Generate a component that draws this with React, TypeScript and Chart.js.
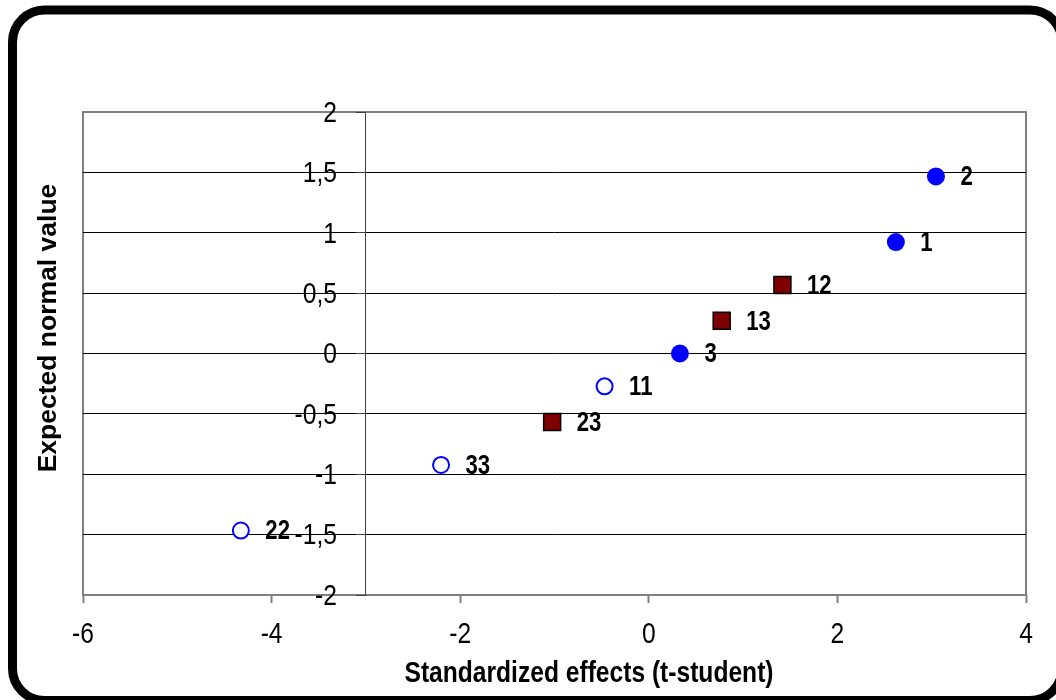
import React, { useEffect, useRef } from 'react';
import { Chart, registerables } from 'chart.js';

Chart.register(...registerables);

const FONT = "'Liberation Sans', Arial, sans-serif";
const NARROW = 0.82;

// Axis ticks
const xTickValues = [-6, -4, -2, 0, 2, 4];
const yTickValues = [-2, -1.5, -1, -0.5, 0, 0.5, 1, 1.5, 2];
const yAxisAtX = -3;

// Titles
const xTitle = 'Standardized effects (t-student)';
const yTitle = 'Expected normal value';

// Series: filled blue circles
const filledLabels = ['1', '2', '3'];
const filledX = [2.62, 3.045, 0.33];
const filledY = [0.923, 1.466, 0];

// Series: dark red squares
const squareLabels = ['12', '13', '23'];
const squareX = [1.417, 0.773, -1.025];
const squareY = [0.567, 0.272, -0.567];

// Series: open blue circles
const openLabels = ['11', '22', '33'];
const openX = [-0.469, -4.326, -2.203];
const openY = [-0.272, -1.466, -0.923];

const fmt = (v: number | string) => String(v).replace('.', ',');

const toPoints = (xs: number[], ys: number[]) => xs.map((x, i) => ({ x, y: ys[i] }));

function narrowText(ctx: CanvasRenderingContext2D, text: string, x: number, y: number, align: CanvasTextAlign) {
  ctx.save();
  ctx.translate(x, y);
  ctx.scale(NARROW, 1);
  ctx.textAlign = align;
  ctx.fillText(text, 0, 0);
  ctx.restore();
}

const decorPlugin = {
  id: 'decor',
  beforeDraw(chart: any) {
    const { ctx, chartArea: a } = chart;
    ctx.save();
    ctx.fillStyle = '#ffffff';
    ctx.fillRect(0, 0, chart.width, chart.height);
    ctx.strokeStyle = '#808080';
    ctx.lineWidth = 2;
    ctx.strokeRect(a.left, a.top, a.right - a.left, a.bottom - a.top);
    ctx.restore();
  },
  afterDatasetsDraw(chart: any) {
    const { ctx } = chart;
    const labelSets = [filledLabels, squareLabels, openLabels];
    ctx.save();
    ctx.font = `bold 27px ${FONT}`;
    ctx.fillStyle = '#000';
    ctx.textBaseline = 'middle';
    chart.data.datasets.forEach((ds: any, di: number) => {
      const meta = chart.getDatasetMeta(di);
      meta.data.forEach((el: any, i: number) => {
        narrowText(ctx, labelSets[di][i], el.x + 24.5, el.y + 1.5, 'left');
      });
    });
    ctx.restore();
  },
  afterDraw(chart: any) {
    const { ctx } = chart;
    const xs = chart.scales.x;
    const ys = chart.scales.y;
    ctx.save();
    ctx.fillStyle = '#000';
    ctx.textBaseline = 'middle';
    // tick labels
    ctx.font = `30px ${FONT}`;
    xTickValues.forEach((v) => {
      narrowText(ctx, fmt(v), xs.getPixelForValue(v), 634.5, 'center');
    });
    const axisX = xs.getPixelForValue(yAxisAtX);
    yTickValues.forEach((v) => {
      narrowText(ctx, fmt(v), axisX - 29, ys.getPixelForValue(v) + 1.5, 'right');
    });
    // axis titles
    ctx.font = `bold 30px ${FONT}`;
    narrowText(ctx, xTitle, 589, 674, 'center');
    ctx.translate(49, 328);
    ctx.rotate(-Math.PI / 2);
    ctx.font = `bold 26.5px ${FONT}`;
    ctx.textAlign = 'center';
    ctx.fillText(yTitle, 0, 0);
    ctx.restore();

    // outer rounded frame
    ctx.save();
    ctx.strokeStyle = '#000';
    ctx.lineWidth = 9;
    ctx.beginPath();
    const x0 = 12.5, y0 = 10, x1 = 1062, y1 = 700.5, r = 32;
    ctx.moveTo(x0 + r, y0);
    ctx.lineTo(x1 - r, y0);
    ctx.arcTo(x1, y0, x1, y0 + r, r);
    ctx.lineTo(x1, y1 - r);
    ctx.arcTo(x1, y1, x1 - r, y1, r);
    ctx.lineTo(x0 + r, y1);
    ctx.arcTo(x0, y1, x0, y1 - r, r);
    ctx.lineTo(x0, y0 + r);
    ctx.arcTo(x0, y0, x0 + r, y0, r);
    ctx.closePath();
    ctx.stroke();
    ctx.restore();
  },
};

export default function App() {
  const ref = useRef<HTMLCanvasElement | null>(null);

  useEffect(() => {
    if (!ref.current) return;
    const chart = new Chart(ref.current, {
      type: 'scatter',
      data: {
        datasets: [
          {
            data: toPoints(filledX, filledY),
            pointStyle: 'circle',
            pointRadius: 9,
            backgroundColor: '#0000ff',
            borderColor: '#0000ff',
            borderWidth: 0,
          },
          {
            data: toPoints(squareX, squareY),
            pointStyle: 'rect',
            pointRadius: 12,
            backgroundColor: '#7f0000',
            borderColor: '#000000',
            borderWidth: 1.5,
          },
          {
            data: toPoints(openX, openY),
            pointStyle: 'circle',
            pointRadius: 8,
            backgroundColor: '#ffffff',
            borderColor: '#0000ff',
            borderWidth: 2,
          },
        ],
      },
      options: {
        responsive: false,
        animation: false,
        events: [],
        layout: { padding: { left: 83, right: 30, top: 112, bottom: 45 } },
        plugins: {
          legend: { display: false },
          tooltip: { enabled: false },
        },
        scales: {
          x: {
            type: 'linear',
            position: 'bottom',
            min: -6,
            max: 4,
            afterBuildTicks: (s: any) => {
              s.ticks = xTickValues.map((v) => ({ value: v }));
            },
            afterFit: (s: any) => {
              s.height = 60;
            },
            ticks: { display: false },
            grid: {
              drawOnChartArea: false,
              drawTicks: true,
              tickLength: 8,
              color: '#808080',
              tickColor: '#808080',
              tickWidth: 2,
            },
            border: { display: false },
          },
          y: {
            type: 'linear',
            position: { x: yAxisAtX } as any,
            min: -2,
            max: 2,
            afterBuildTicks: (s: any) => {
              s.ticks = yTickValues.map((v) => ({ value: v }));
            },
            ticks: { display: false },
            grid: {
              color: (c: any) =>
                c.tick && (c.tick.value === 2 || c.tick.value === -2) ? 'rgba(0,0,0,0)' : '#000000',
              lineWidth: 1,
              drawTicks: true,
              tickLength: 9,
              tickColor: '#404040',
            },
            border: { display: true, color: '#404040', width: 1 },
          },
        },
      },
      plugins: [decorPlugin],
    } as any);
    return () => chart.destroy();
  }, []);

  return (
    <div style={{ position: 'absolute', left: 0, top: 0, width: 1056, height: 700 }}>
      <canvas ref={ref} width={1056} height={700} style={{ width: 1056, height: 700, display: 'block' }} />
    </div>
  );
}
